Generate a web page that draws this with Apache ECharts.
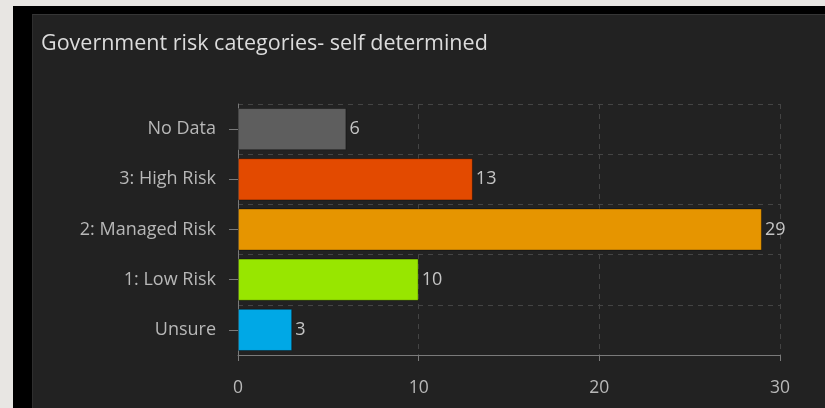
<!DOCTYPE html>
<html>
<head>
<meta charset="utf-8">
<script src="https://cdn.jsdelivr.net/npm/echarts@6/dist/echarts.min.js"></script>
<style>
  html, body { margin: 0; padding: 0; width: 825px; height: 408px; overflow: hidden; background: #e8e6e3; }
  #frame { position: absolute; left: 13px; top: 6px; right: 0; bottom: 0; background: #000; }
  #panel { position: absolute; left: 32px; top: 14px; right: 0; bottom: 0; background: #222; border-top: 1px solid #363636; border-left: 1px solid #2e2e2e; }
  #chart { position: absolute; left: 0; top: 0; width: 825px; height: 408px; }
</style>
</head>
<body>
<div id="frame"></div>
<div id="panel"></div>
<div id="chart"></div>
<script>
const categories = ['No Data', '3: High Risk', '2: Managed Risk', '1: Low Risk', 'Unsure'];
const values = [6, 13, 29, 10, 3];
const barColors = ['#5e5e5e', '#e34a00', '#e69500', '#98e600', '#00a8e6'];
const xTicks = [0, 10, 20, 30];

const chart = echarts.init(document.getElementById('chart'));
chart.setOption({
  backgroundColor: 'transparent',
  animation: false,
  title: {
    text: 'Government risk categories- self determined',
    left: 36, top: 28,
    textStyle: { color: '#dcdcdc', fontSize: 21.5, fontWeight: 'normal', fontFamily: 'Open Sans' }
  },
  grid: { left: 238, right: 45, top: 104, bottom: 53 },
  xAxis: {
    type: 'value',
    min: xTicks[0], max: xTicks[xTicks.length - 1], interval: 10,
    axisLine: { show: true, lineStyle: { color: '#7a7a7a', width: 1 } },
    axisTick: { show: true, length: 6, lineStyle: { color: '#7a7a7a' } },
    axisLabel: { color: '#b8b8b8', fontSize: 17.5, margin: 24, fontFamily: 'Open Sans' },
    splitLine: { show: true, lineStyle: { color: '#444', type: [5, 5] } }
  },
  yAxis: {
    type: 'category',
    data: categories,
    inverse: true,
    axisLine: { show: true, lineStyle: { color: '#7a7a7a', width: 1 } },
    axisTick: { show: true, length: 9, alignWithLabel: true, lineStyle: { color: '#7a7a7a' } },
    axisLabel: { color: '#b8b8b8', fontSize: 18, margin: 22, fontFamily: 'Open Sans' },
    splitLine: { show: true, lineStyle: { color: '#444', type: [5, 5] } }
  },
  series: [{
    type: 'bar',
    data: values.map((v, i) => ({ value: v, itemStyle: { color: barColors[i] } })),
    barCategoryGap: '16%',
    itemStyle: { borderColor: 'rgba(0,0,0,0.35)', borderWidth: 1 },
    label: { show: true, position: 'right', distance: 3, color: '#c4c4c4', fontSize: 18, fontFamily: 'Open Sans' }
  }]
});
</script>
</body>
</html>
